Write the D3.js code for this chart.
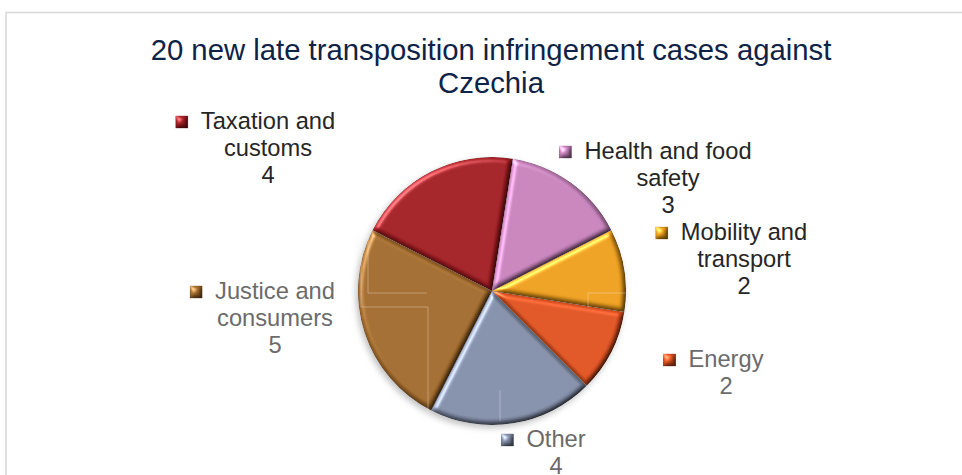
<!DOCTYPE html>
<html lang="en">
<head>
<meta charset="utf-8">
<title>Late transposition infringement cases - Czechia</title>
<script src="https://cdn.jsdelivr.net/npm/d3@7"></script>
<style>
  body { margin: 0; background: #fff; }
  svg text { font-family: Arial, "Liberation Sans", sans-serif; }
</style>
</head>
<body>
<script>
// chart data
var categories = ["Taxation and customs", "Health and food safety", "Mobility and transport",
                  "Energy", "Other", "Justice and consumers"];
var cases = [4, 3, 2, 2, 4, 5];
var titleLines = ["20 new late transposition infringement cases against", "Czechia"];

// look
var sliceColors = ["#a51c22", "#cd85c1", "#f5a31c", "#e8531f", "#8591ad", "#a66c2b"];
var labelColors = ["#262626", "#262626", "#262626", "#6b6b6b", "#6b6b6b", "#6b6b6b"];
// label centre (first line baseline) relative to the pie centre, as placed in the original
var labelOffset = [[-224, -162], [176, -132], [252, -51], [234, 76], [64, 156], [-217, 8]];

var width = 962, height = 475;
var cx = 492, cy = 291, radius = 134;

var svg = d3.select("body").append("svg")
    .attr("width", width)
    .attr("height", height);

// bevel look for slices
var defs = svg.append("defs");
var bevel = defs.append("filter").attr("id", "bevel")
    .attr("color-interpolation-filters", "sRGB")
    .attr("x", "-5%").attr("y", "-5%").attr("width", "110%").attr("height", "110%");
bevel.append("feGaussianBlur").attr("in", "SourceAlpha").attr("stdDeviation", 2.5).attr("result", "blur");
bevel.append("feSpecularLighting").attr("in", "blur").attr("surfaceScale", 3)
    .attr("specularConstant", 0.5).attr("specularExponent", 20)
    .attr("lighting-color", "#ffffff").attr("result", "spec")
  .append("feDistantLight").attr("azimuth", 225).attr("elevation", 40);
bevel.append("feComposite").attr("in", "spec").attr("in2", "SourceAlpha")
    .attr("operator", "in").attr("result", "specIn");
bevel.append("feDiffuseLighting").attr("in", "blur").attr("surfaceScale", 3)
    .attr("diffuseConstant", 1).attr("lighting-color", "#ffffff").attr("result", "diff")
  .append("feDistantLight").attr("azimuth", 225).attr("elevation", 60);
bevel.append("feComposite").attr("in", "SourceGraphic").attr("in2", "diff")
    .attr("operator", "arithmetic").attr("k1", 1.06).attr("k2", 0).attr("k3", 0).attr("k4", 0)
    .attr("result", "lit");
bevel.append("feComposite").attr("in", "lit").attr("in2", "specIn")
    .attr("operator", "arithmetic").attr("k1", 0).attr("k2", 1).attr("k3", 0.8).attr("k4", 0)
    .attr("result", "out");
bevel.append("feComposite").attr("in", "out").attr("in2", "SourceAlpha").attr("operator", "in");

var shadow = defs.append("filter").attr("id", "shadow")
    .attr("color-interpolation-filters", "sRGB")
    .attr("x", "-10%").attr("y", "-10%").attr("width", "120%").attr("height", "120%");
shadow.append("feDropShadow").attr("dx", -2).attr("dy", 3).attr("stdDeviation", 3)
    .attr("flood-color", "#000").attr("flood-opacity", 0.25);

// chart frame (only top and left edges are in view)
svg.append("rect")
    .attr("x", 6).attr("y", 12.5)
    .attr("width", width + 20).attr("height", height + 20)
    .attr("fill", "none")
    .attr("stroke", "#d9d9d9")
    .attr("stroke-width", 1.6);

// title
svg.append("text")
    .attr("x", 491)
    .attr("y", 60)
    .attr("text-anchor", "middle")
    .attr("font-size", "29.3px")
    .attr("fill", "#0e2347")
    .selectAll("tspan")
    .data(titleLines)
    .enter().append("tspan")
    .attr("x", 491)
    .attr("dy", function(d, i) { return i == 0 ? 0 : 33; })
    .text(function(d) { return d; });

// pie
var pie = d3.pie()
    .sort(null)
    .startAngle(-63 * Math.PI / 180)
    .endAngle(297 * Math.PI / 180)
    .value(function(d) { return d; });

var arc = d3.arc().innerRadius(0).outerRadius(radius);
var arcs = pie(cases);

var pieG = svg.append("g")
    .attr("transform", "translate(" + cx + "," + cy + ")")
    .attr("filter", "url(#shadow)");

pieG.selectAll("path.slice")
    .data(arcs)
    .enter().append("path")
    .attr("class", "slice")
    .attr("d", arc)
    .attr("fill", function(d, i) { return sliceColors[i]; })
    .attr("stroke", "rgba(0,0,0,0.18)")
    .attr("stroke-width", 0.8)
    .attr("filter", "url(#bevel)");

// faint leftover leader lines seen over the pie
var leaders = [
    [[-124, -55], [-124, 2], [-65, 2]],
    [[-131, -58], [-131, 16], [-64, 16], [-64, 122]],
    [[96, 16], [96, 2], [134, 2]],
    [[8, 99], [8, 130]]
];
pieG.selectAll("path.leader")
    .data(leaders)
    .enter().append("path")
    .attr("class", "leader")
    .attr("d", d3.line())
    .attr("fill", "none")
    .attr("stroke", "rgba(255,255,255,0.3)")
    .attr("stroke-width", 1);

// data labels with legend keys
var labels = svg.selectAll("g.label")
    .data(arcs)
    .enter().append("g")
    .attr("class", "label")
    .attr("transform", function(d, i) {
        return "translate(" + (cx + labelOffset[i][0]) + "," + (cy + labelOffset[i][1]) + ")";
    });

labels.each(function(d, i) {
    var g = d3.select(this);
    var words = categories[i].split(" ");
    var lines = [], cur = "";
    var probe = g.append("text").attr("font-size", "23.7px");
    words.forEach(function(w) {
        var test = cur ? cur + " " + w : w;
        probe.text(test);
        if (probe.node().getComputedTextLength() > 175 && cur) {
            lines.push(cur);
            cur = w;
        } else {
            cur = test;
        }
    });
    lines.push(cur);
    probe.text(lines[0]);
    var firstWidth = probe.node().getComputedTextLength();
    probe.remove();
    lines.push(String(d.data));

    var t = g.append("text")
        .attr("text-anchor", "middle")
        .attr("font-size", "23.7px")
        .attr("fill", labelColors[i]);
    t.selectAll("tspan")
        .data(lines)
        .enter().append("tspan")
        .attr("x", 0)
        .attr("dy", function(l, j) { return j == 0 ? 0 : 27; })
        .text(function(l) { return l; });

    g.append("rect")
        .attr("x", -firstWidth / 2 - 25)
        .attr("y", -13)
        .attr("width", 12)
        .attr("height", 12)
        .attr("fill", sliceColors[i])
        .attr("stroke", d3.color(sliceColors[i]).darker(0.6))
        .attr("stroke-width", 0.8)
        .attr("filter", "url(#bevel)");
});
</script>
</body>
</html>
